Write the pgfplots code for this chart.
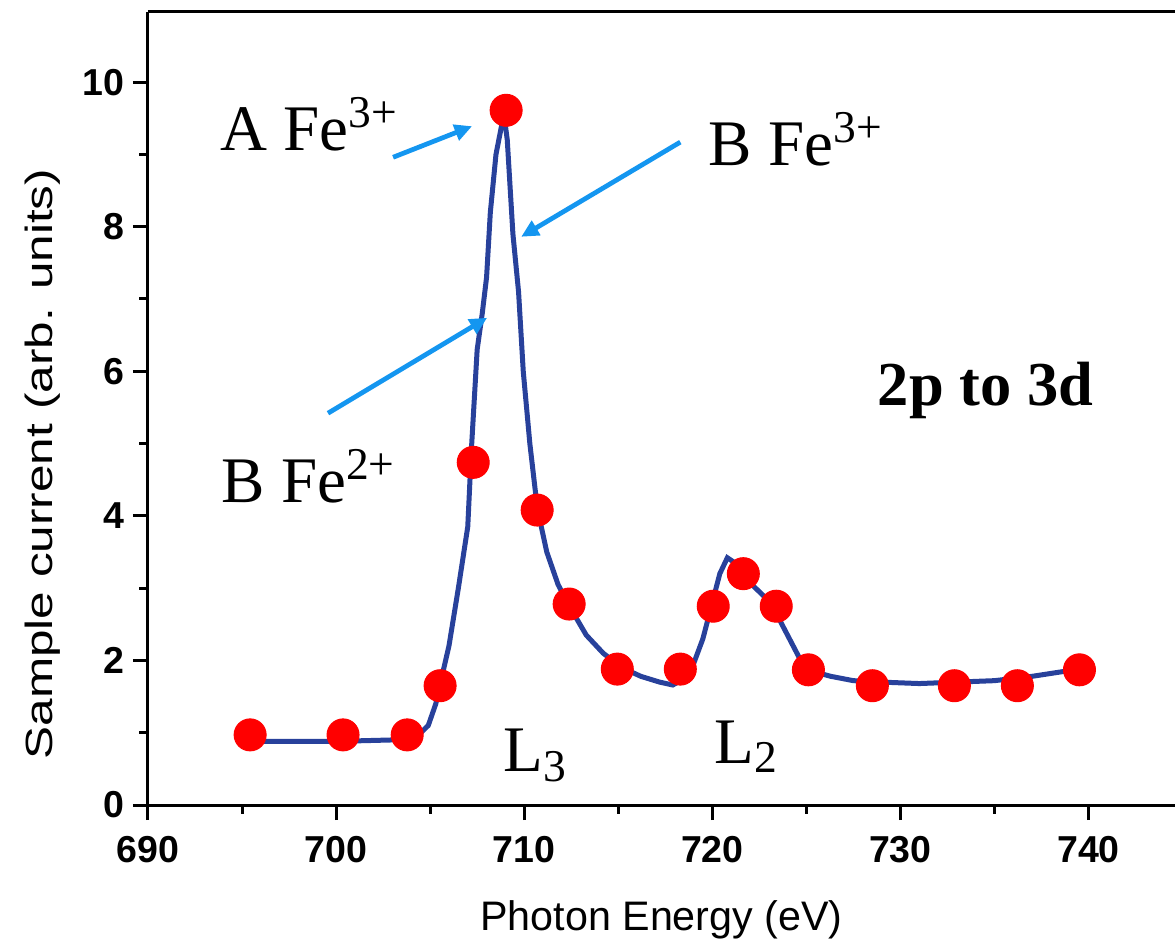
\documentclass[border=0pt]{standalone}
\usepackage{fontspec}
\setmainfont{Liberation Serif}
\setsansfont{Liberation Sans}
\usepackage{pgfplots}
\pgfplotsset{compat=1.18}
\usetikzlibrary{arrows.meta}
\definecolor{curveblue}{RGB}{40,65,155}
\definecolor{arrowblue}{RGB}{20,150,240}

\begin{document}
\begin{tikzpicture}
\useasboundingbox (-59.2pt,-54.8pt) rectangle (410.8pt,322pt);
\begin{axis}[
    scale only axis, width=410.8pt, height=317.2pt,
    xmin=690, xmax=744.6, ymin=0, ymax=10.97,
    axis x line*=bottom, axis y line*=left,
    axis line style={line width=1.2pt, -},
    xtick={690,700,...,740}, minor xtick={695,705,...,735},
    ytick={0,2,...,10}, minor ytick={1,3,...,9},
    tick align=outside, major tick length=6pt, minor tick length=3.5pt,
    every tick/.style={line width=1.2pt, black},
    ticklabel style={font=\sffamily\bfseries\fontsize{15}{15}\selectfont},
    xticklabel style={yshift=-3pt},
    /pgf/number format/assume math mode=true,
    xlabel={Photon Energy (eV)},
    ylabel={\scalebox{1.2}[0.92]{Sample current (arb. units)}},
    label style={font=\sffamily\fontsize{16.5}{16.5}\selectfont},
    xlabel style={yshift=-8pt},
    ylabel style={at={(axis description cs:-0.128,0.43)}, anchor=north, rotate=0},
    clip=false,
  ]
  % top frame line only (no right one in the reference)
  \draw[line width=1.2pt] (rel axis cs:0,1) -- (rel axis cs:1,1);

  \addplot[curveblue, line width=2pt, no markers] coordinates {
    (695.4,0.88) (700,0.88) (703,0.9) (704.3,0.95) (704.9,1.1) (705.3,1.4)
    (705.6,1.75) (706.0,2.2) (706.5,3.0) (707.0,3.85) (707.2,4.95) (707.5,6.3)
    (707.77,6.8) (708.0,7.3) (708.2,8.2) (708.5,9.0) (708.8,9.4) (709.0,9.4)
    (709.1,9.2) (709.4,7.9) (709.7,7.1) (709.95,6.0) (710.3,5.0) (710.7,4.1)
    (711.2,3.5) (711.8,3.05) (712.4,2.75) (713.3,2.35) (714.2,2.1) (715.2,1.9)
    (716.2,1.78) (717.2,1.7) (717.9,1.66) (718.5,1.75) (719.0,1.95) (719.5,2.3)
    (720.0,2.8) (720.4,3.2) (720.8,3.42) (721.2,3.35) (721.7,3.15) (722.3,3.0)
    (722.9,2.85) (723.5,2.6) (724.1,2.3) (724.7,2.0) (725.3,1.85) (726.3,1.78)
    (727.5,1.72) (729,1.7) (731,1.68) (733,1.7) (735,1.72) (737,1.78)
    (739,1.86) (739.7,1.9)
  };

  \addplot[only marks, mark=*, mark size=6.4pt, red, mark options={draw=none, fill=red}] coordinates {
    (695.43,0.97) (700.37,0.97) (703.78,0.97) (705.53,1.65) (707.29,4.74)
    (709.04,9.61) (710.69,4.08) (712.39,2.78) (714.95,1.88) (718.30,1.88)
    (720.05,2.75) (721.65,3.20) (723.40,2.75) (725.11,1.87) (728.51,1.65)
    (732.87,1.65) (736.22,1.65) (739.52,1.87)
  };

  \draw[arrowblue, line width=1.9pt, -{Triangle[length=7pt, width=6.5pt]}]
    (axis cs:703.03,8.96) -- (axis cs:707.23,9.39);
  \draw[arrowblue, line width=1.9pt, -{Triangle[length=7pt, width=6.5pt]}]
    (axis cs:718.30,9.17) -- (axis cs:709.84,7.86);
  \draw[arrowblue, line width=1.9pt, -{Triangle[length=7pt, width=6.5pt]}]
    (axis cs:699.57,5.42) -- (axis cs:708.03,6.74);

  \node[anchor=base west, inner sep=0pt, font=\fontsize{26}{26}\selectfont]
    at (axis cs:693.83,9.06) {A Fe\textsuperscript{3+}};
  \node[anchor=base west, inner sep=0pt, font=\fontsize{26}{26}\selectfont]
    at (axis cs:719.79,8.85) {B Fe\textsuperscript{3+}};
  \node[anchor=base west, inner sep=0pt, font=\fontsize{26}{26}\selectfont]
    at (axis cs:693.88,4.19) {B Fe\textsuperscript{2+}};
  \node[anchor=base west, inner sep=0pt, font=\bfseries\fontsize{25}{25}\selectfont]
    at (axis cs:728.78,5.53) {2p to 3d};
  \node[anchor=base west, inner sep=0pt, font=\fontsize{26}{26}\selectfont]
    at (axis cs:708.88,0.46) {L\textsubscript{3}};
  \node[anchor=base west, inner sep=0pt, font=\fontsize{26}{26}\selectfont]
    at (axis cs:720.1,0.58) {L\textsubscript{2}};
\end{axis}
\end{tikzpicture}
\end{document}
